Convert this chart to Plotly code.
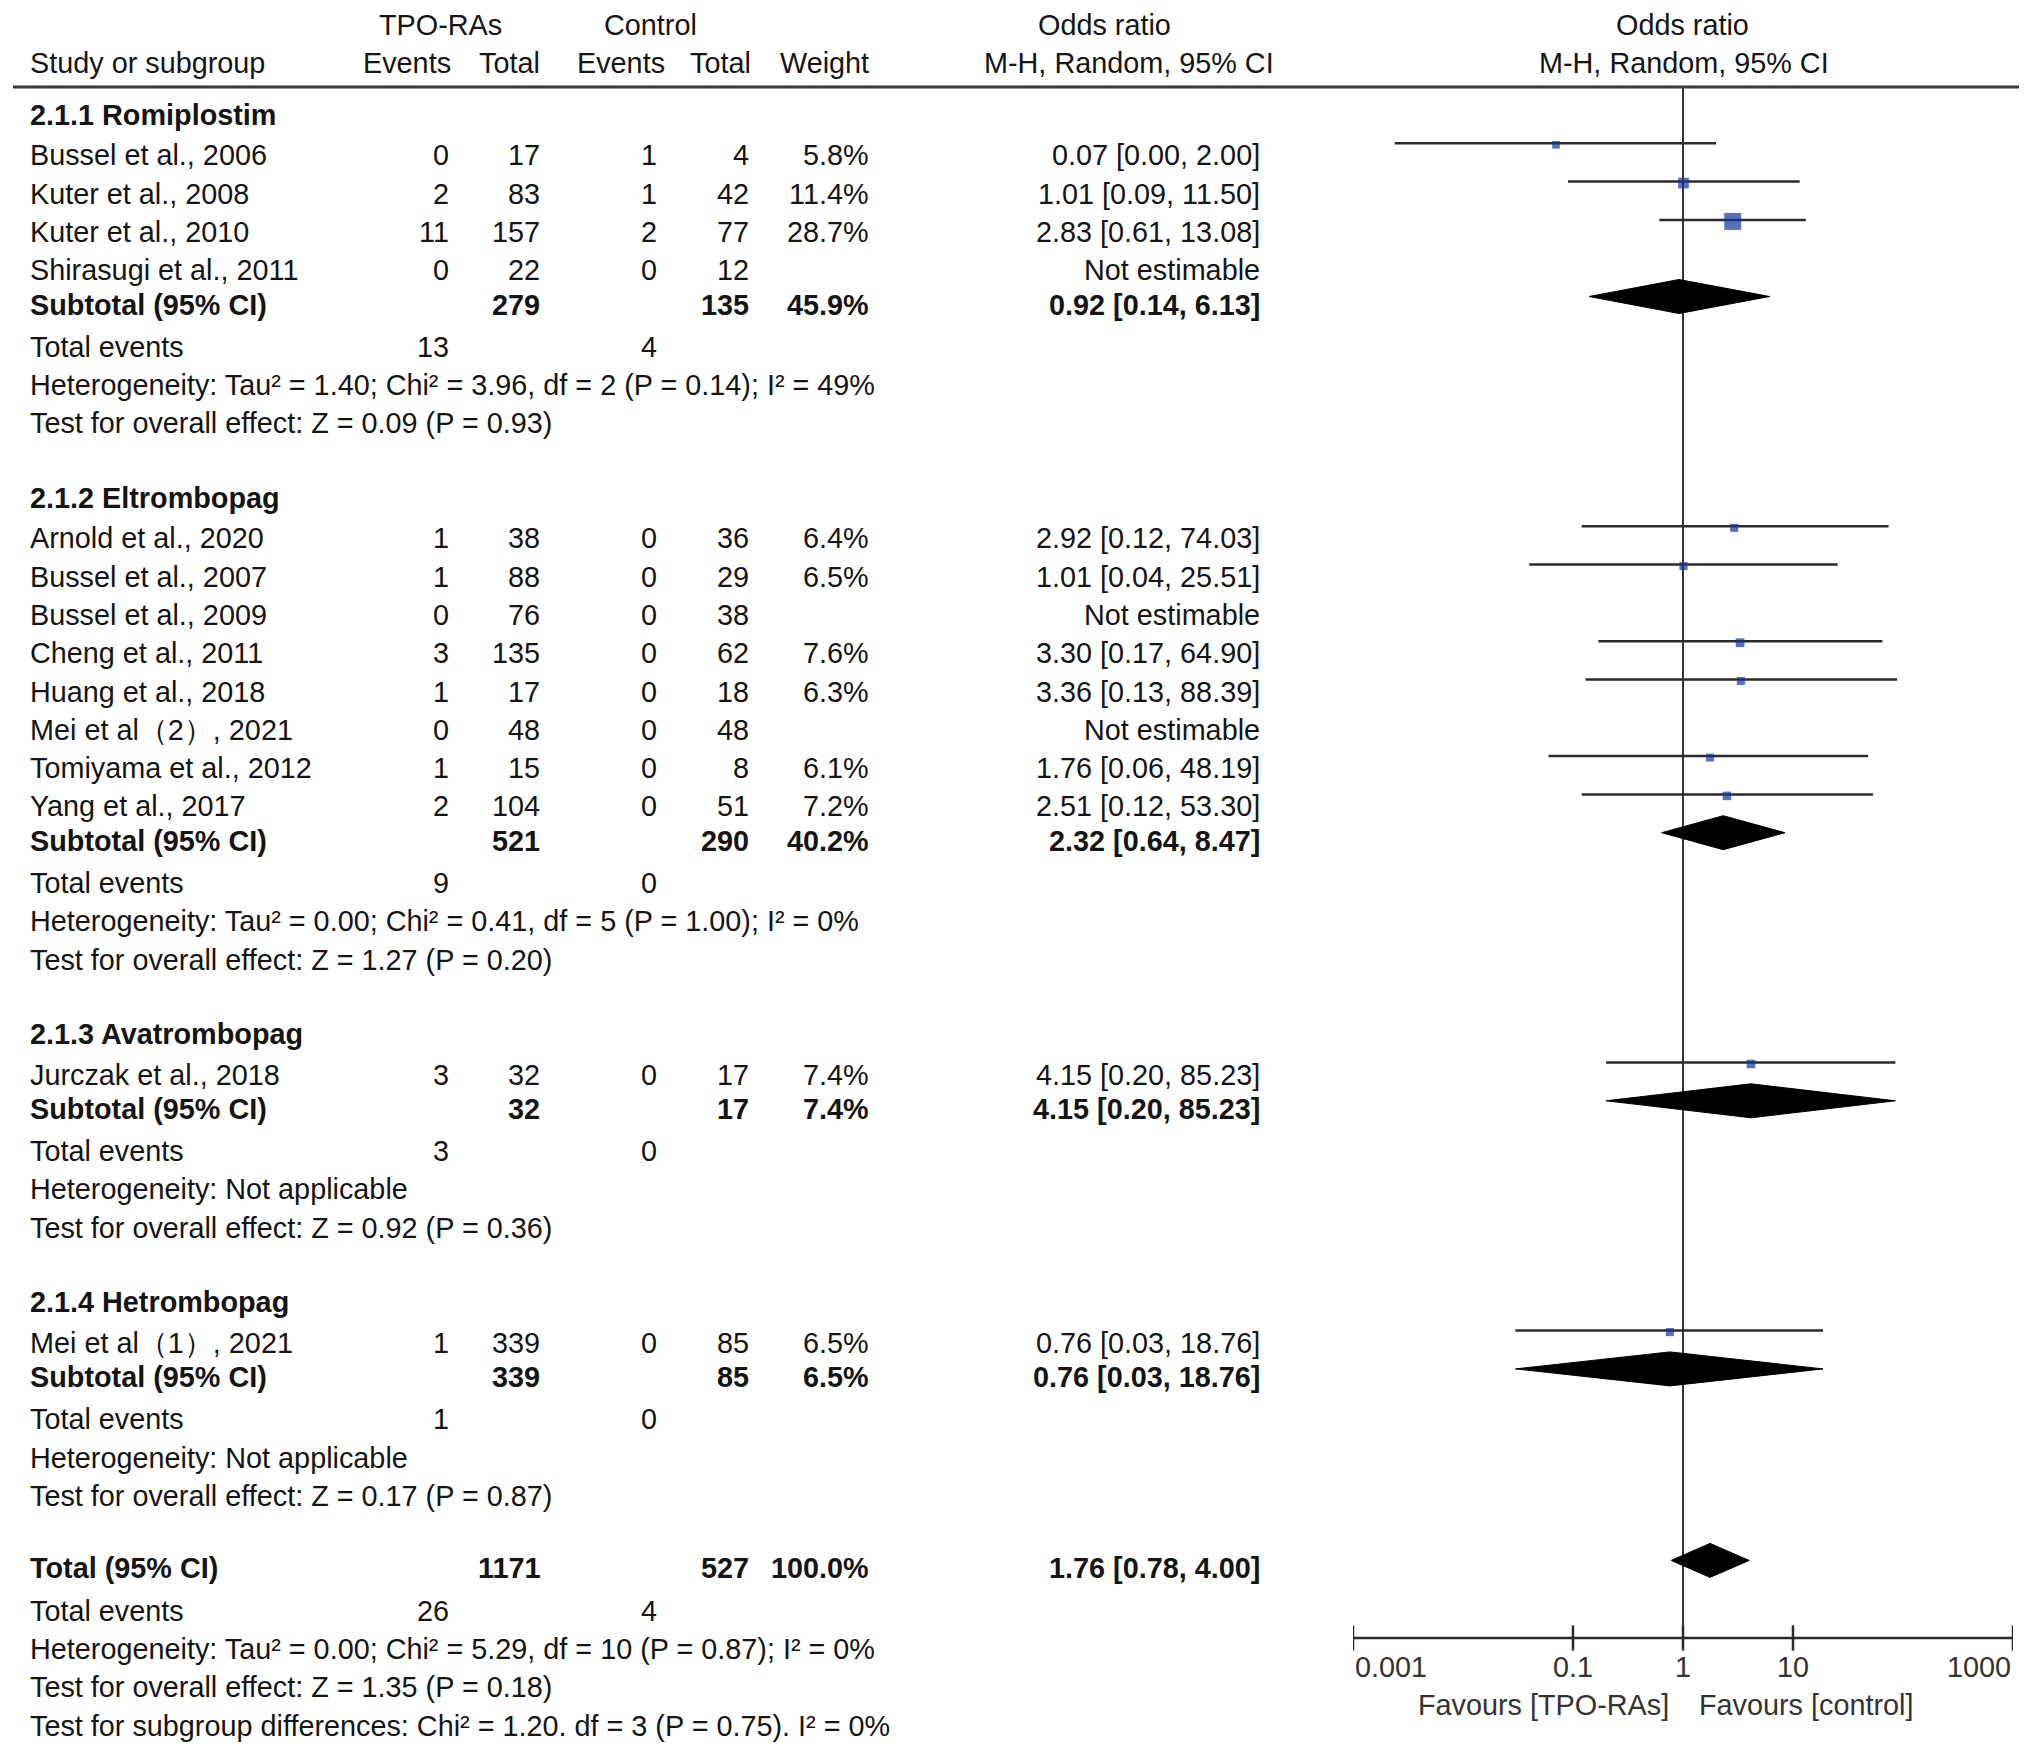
import math
import plotly.graph_objects as go

# ---- data ----
groups = ["2.1.1 Romiplostim", "2.1.2 Eltrombopag", "2.1.3 Avatrombopag", "2.1.4 Hetrombopag"]

study_names = [
    ["Bussel et al., 2006", "Kuter et al., 2008", "Kuter et al., 2010", "Shirasugi et al., 2011"],
    ["Arnold et al., 2020", "Bussel et al., 2007", "Bussel et al., 2009", "Cheng et al., 2011",
     "Huang et al., 2018", "Mei et al（2）, 2021", "Tomiyama et al., 2012", "Yang et al., 2017"],
    ["Jurczak et al., 2018"],
    ["Mei et al（1）, 2021"],
]
tpo_events = [[0, 2, 11, 0], [1, 1, 0, 3, 1, 0, 1, 2], [3], [1]]
tpo_total = [[17, 83, 157, 22], [38, 88, 76, 135, 17, 48, 15, 104], [32], [339]]
ctl_events = [[1, 1, 2, 0], [0, 0, 0, 0, 0, 0, 0, 0], [0], [0]]
ctl_total = [[4, 42, 77, 12], [36, 29, 38, 62, 18, 48, 8, 51], [17], [85]]
weights = [[5.8, 11.4, 28.7, None], [6.4, 6.5, None, 7.6, 6.3, None, 6.1, 7.2], [7.4], [6.5]]
odds = [[0.07, 1.01, 2.83, None], [2.92, 1.01, None, 3.30, 3.36, None, 1.76, 2.51], [4.15], [0.76]]
ci_low = [[0.0024, 0.09, 0.61, None], [0.12, 0.04, None, 0.17, 0.13, None, 0.06, 0.12], [0.20], [0.03]]
ci_high = [[2.00, 11.50, 13.08, None], [74.03, 25.51, None, 64.90, 88.39, None, 48.19, 53.30], [85.23], [18.76]]

sub_tpo_total = [279, 521, 32, 339]
sub_ctl_total = [135, 290, 17, 85]
sub_weight = [45.9, 40.2, 7.4, 6.5]
sub_odds = [0.92, 2.32, 4.15, 0.76]
sub_low = [0.14, 0.64, 0.20, 0.03]
sub_high = [6.13, 8.47, 85.23, 18.76]
sub_tpo_events = [13, 9, 3, 1]
sub_ctl_events = [4, 0, 0, 0]
sub_het = [
    "Heterogeneity: Tau² = 1.40; Chi² = 3.96, df = 2 (P = 0.14); I² = 49%",
    "Heterogeneity: Tau² = 0.00; Chi² = 0.41, df = 5 (P = 1.00); I² = 0%",
    "Heterogeneity: Not applicable",
    "Heterogeneity: Not applicable",
]
sub_test = [
    "Test for overall effect: Z = 0.09 (P = 0.93)",
    "Test for overall effect: Z = 1.27 (P = 0.20)",
    "Test for overall effect: Z = 0.92 (P = 0.36)",
    "Test for overall effect: Z = 0.17 (P = 0.87)",
]

total_tpo_total = 1171
total_ctl_total = 527
total_weight = 100.0
total_odds = 1.76
total_low = 0.78
total_high = 4.00
total_tpo_events = 26
total_ctl_events = 4
total_notes = [
    "Heterogeneity: Tau² = 0.00; Chi² = 5.29, df = 10 (P = 0.87); I² = 0%",
    "Test for overall effect: Z = 1.35 (P = 0.18)",
    "Test for subgroup differences: Chi² = 1.20. df = 3 (P = 0.75). I² = 0%",
]

tick_vals = [0.001, 0.1, 1, 10, 1000]
tick_text = ["0.001", "0.1", "1", "10", "1000"]

# ---- layout constants (pixels) ----
W, H = 2032, 1754
TOP, ROW = 113, 38.3
FONT = "Liberation Sans, Arial, Helvetica, sans-serif"
FS = 28.8
TXT = "#151515"
PLAIN_DY = 4           # plain rows sit a bit lower than the bold summary rows
HEAD_DY = 1.5
STUDY_MARK_DY = -8     # CI line relative to the grid row
SUB_MARK_DY = -8       # diamond centre relative to the grid row
DIAMOND_H = 17
AXIS_Y = 1638

col_label = 28
col_tev, col_ttot, col_cev, col_ctot, col_wt, col_or = 451, 542, 659, 751, 871, 1262

annotations = []


def txt(x, y, s, anchor="right", bold=False, color=TXT, xref="x", xshift=0):
    annotations.append(dict(
        x=x, y=y, xref=xref, yref="y", text="<b>%s</b>" % s if bold else s,
        showarrow=False, xanchor=anchor, yanchor="middle", xshift=xshift,
        font=dict(family=FONT, size=FS, color=color)))


def fmt_or(o, lo, hi):
    return "%.2f [%.2f, %.2f]" % (o, lo, hi)


fig = go.Figure()

# header
txt(440, 25, "TPO-RAs", anchor="center")
txt(650, 25, "Control", anchor="center")
txt(1104, 25, "Odds ratio", anchor="center")
txt(1682, 25, "Odds ratio", anchor="center")
txt(col_label, 63, "Study or subgroup", anchor="left")
txt(453, 63, "Events")
txt(542, 63, "Total")
txt(667, 63, "Events")
txt(753, 63, "Total")
txt(871, 63, "Weight")
txt(1129, 63, "M-H, Random, 95% CI", anchor="center")
txt(1684, 63, "M-H, Random, 95% CI", anchor="center")

sq_x, sq_y, sq_size = [], [], []
ci_x, ci_y = [], []
dia_x, dia_y = [], []


def add_diamond(o, lo, hi, yc):
    dia_x.extend([lo, o, hi, o, lo, None])
    dia_y.extend([yc, yc - DIAMOND_H, yc, yc + DIAMOND_H, yc, None])


y = TOP
for g, name in enumerate(groups):
    txt(col_label, y + HEAD_DY, name, anchor="left", bold=True)
    y += ROW
    for i, s in enumerate(study_names[g]):
        yt = y + PLAIN_DY
        txt(col_label, yt, s, anchor="left")
        txt(col_tev, yt, str(tpo_events[g][i]))
        txt(col_ttot, yt, str(tpo_total[g][i]))
        txt(col_cev, yt, str(ctl_events[g][i]))
        txt(col_ctot, yt, str(ctl_total[g][i]))
        if weights[g][i] is None:
            txt(col_or, yt, "Not estimable")
        else:
            txt(col_wt, yt, "%.1f%%" % weights[g][i])
            txt(col_or, yt, fmt_or(odds[g][i], ci_low[g][i], ci_high[g][i]))
            ym = y + STUDY_MARK_DY
            ci_x.extend([ci_low[g][i], ci_high[g][i], None])
            ci_y.extend([ym, ym, None])
            sq_x.append(odds[g][i])
            sq_y.append(ym + 1.5)
            sq_size.append(17 * math.sqrt(weights[g][i] / 28.7))
        y += ROW
    txt(col_label, y, "Subtotal (95% CI)", anchor="left", bold=True)
    txt(col_ttot, y, str(sub_tpo_total[g]), bold=True)
    txt(col_ctot, y, str(sub_ctl_total[g]), bold=True)
    txt(col_wt, y, "%.1f%%" % sub_weight[g], bold=True)
    txt(col_or, y, fmt_or(sub_odds[g], sub_low[g], sub_high[g]), bold=True)
    add_diamond(sub_odds[g], sub_low[g], sub_high[g], y + SUB_MARK_DY)
    y += ROW
    txt(col_label, y + PLAIN_DY, "Total events", anchor="left")
    txt(col_tev, y + PLAIN_DY, str(sub_tpo_events[g]))
    txt(col_cev, y + PLAIN_DY, str(sub_ctl_events[g]))
    y += ROW
    txt(col_label, y + PLAIN_DY, sub_het[g], anchor="left")
    y += ROW
    txt(col_label, y + PLAIN_DY, sub_test[g], anchor="left")
    y += 2 * ROW

txt(col_label, y, "Total (95% CI)", anchor="left", bold=True)
txt(col_ttot, y, str(total_tpo_total), bold=True)
txt(col_ctot, y, str(total_ctl_total), bold=True)
txt(col_wt, y, "%.1f%%" % total_weight, bold=True)
txt(col_or, y, fmt_or(total_odds, total_low, total_high), bold=True)
add_diamond(total_odds, total_low, total_high, y + SUB_MARK_DY)
y += ROW
txt(col_label, y + PLAIN_DY, "Total events", anchor="left")
txt(col_tev, y + PLAIN_DY, str(total_tpo_events))
txt(col_cev, y + PLAIN_DY, str(total_ctl_events))
for note in total_notes:
    y += ROW
    txt(col_label, y + PLAIN_DY, note, anchor="left")

# forest panel
fig.add_trace(go.Scatter(x=[1, 1], y=[87, AXIS_Y], xaxis="x2", yaxis="y", mode="lines",
                         line=dict(color="#333333", width=2), hoverinfo="skip"))
fig.add_trace(go.Scatter(x=ci_x, y=ci_y, xaxis="x2", yaxis="y", mode="lines",
                         line=dict(color="#2b2b2b", width=2.5), hoverinfo="skip"))
fig.add_trace(go.Scatter(x=sq_x, y=sq_y, xaxis="x2", yaxis="y", mode="markers",
                         marker=dict(symbol="square", size=sq_size, color="#14339a", line=dict(width=0)),
                         hoverinfo="skip"))
fig.add_trace(go.Scatter(x=dia_x, y=dia_y, xaxis="x2", yaxis="y", mode="lines", fill="toself",
                         fillcolor="black", line=dict(color="black", width=1), hoverinfo="skip"))

# custom x axis for the forest panel
fig.add_trace(go.Scatter(x=[tick_vals[0], tick_vals[-1]], y=[AXIS_Y, AXIS_Y], xaxis="x2", yaxis="y",
                         mode="lines", line=dict(color="#2b2b2b", width=2.5), hoverinfo="skip"))
fig.add_trace(go.Scatter(x=tick_vals, y=[AXIS_Y] * len(tick_vals), xaxis="x2", yaxis="y", mode="markers",
                         marker=dict(symbol="line-ns", size=18, line=dict(color="#2b2b2b", width=2.5)),
                         hoverinfo="skip"))
for k, (v, t) in enumerate(zip(tick_vals, tick_text)):
    anchor = "left" if k == 0 else ("right" if k == len(tick_vals) - 1 else "center")
    txt(math.log10(v), 1667, t, anchor=anchor, xref="x2", color="#333333")
txt(0, 1705, "Favours [TPO-RAs]", anchor="right", xref="x2", color="#333333", xshift=-12)
txt(0, 1705, "Favours [control]", anchor="left", xref="x2", color="#333333", xshift=14)

fig.update_layout(
    width=W, height=H,
    margin=dict(l=0, r=0, t=0, b=0),
    paper_bgcolor="white", plot_bgcolor="white",
    showlegend=False,
    xaxis=dict(range=[0, W], domain=[0, 1], visible=False, fixedrange=True),
    xaxis2=dict(type="log", range=[-3, 3], domain=[1353 / W, 2013 / W], anchor="y",
                visible=False, fixedrange=True),
    yaxis=dict(range=[H, 0], domain=[0, 1], visible=False, fixedrange=True),
    annotations=annotations,
    shapes=[dict(type="line", xref="paper", yref="y", x0=13 / W, x1=2019 / W, y0=87, y1=87,
                 line=dict(color="#3a3a3a", width=3))],
)

# page body has a default 8px margin; drop it so the figure lines up with the window
fig.write_html("out.html", config={"displayModeBar": False},
               post_script="document.body.style.margin='0px';")
